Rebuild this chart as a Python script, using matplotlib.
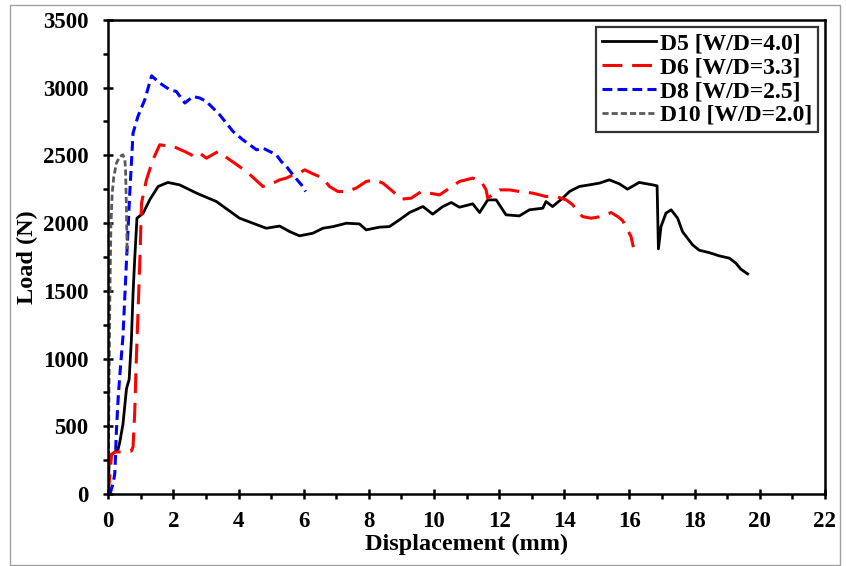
import matplotlib
matplotlib.use("Agg")
import matplotlib.pyplot as plt
from matplotlib.patches import Rectangle
from matplotlib.ticker import MultipleLocator

# Load-displacement curves for the four specimens
d5_x = [0, 0.03, 0.30, 0.35, 0.45, 0.56, 0.64, 0.71, 0.76, 0.81, 0.88, 1.07, 1.27, 1.53,
        1.83, 2.19, 2.71, 3.32, 4.03, 4.85, 5.26, 5.57, 5.87, 6.28, 6.59, 6.90, 7.31,
        7.71, 7.92, 8.33, 8.63, 8.94, 9.25, 9.66, 9.96, 10.27, 10.53, 10.78, 11.19,
        11.40, 11.65, 11.91, 12.21, 12.62, 12.93, 13.34, 13.44, 13.64, 13.95, 14.16,
        14.46, 14.77, 15.08, 15.38, 15.69, 15.94, 16.30, 16.71, 16.85, 16.89, 16.97,
        17.12, 17.28, 17.48, 17.63, 17.94, 18.14, 18.45, 18.76, 19.07, 19.27, 19.42,
        19.63]
d5_y = [0, 280, 330, 380, 515, 780, 845, 1140, 1480, 1730, 2036, 2073, 2171, 2270,
        2300, 2282, 2221, 2159, 2036, 1962, 1978, 1937, 1906, 1925, 1962, 1974, 1999,
        1994, 1950, 1970, 1974, 2024, 2078, 2122, 2066, 2122, 2152, 2117, 2142,
        2078, 2171, 2171, 2061, 2053, 2098, 2110, 2159, 2122, 2184, 2233,
        2270, 2282, 2295, 2319, 2290, 2250, 2300, 2282, 2275, 1810, 1974,
        2073, 2098, 2036, 1937, 1839, 1800, 1782, 1758, 1741, 1704, 1660,
        1625]

d6_x = [0, 0.05, 0.10, 0.20, 0.40, 0.71, 0.76, 0.81, 0.86, 0.97, 1.02, 1.17, 1.37, 1.58,
        1.79, 2.04, 2.35, 2.65, 2.81, 3.01, 3.37, 3.73, 4.24, 4.75, 4.95, 5.26, 5.47,
        5.67, 5.87, 6.03, 6.28, 6.59, 6.79, 7.05, 7.31, 7.61, 7.92, 8.17, 8.43, 8.74,
        8.99, 9.30, 9.61, 9.86, 10.17, 10.48, 10.78, 11.19, 11.45, 11.60, 11.65, 12.01,
        12.32, 12.62, 13.03, 13.44, 13.75, 14.06, 14.26, 14.41, 14.56, 14.82, 15.13,
        15.44, 15.64, 15.79, 15.94, 16.05, 16.12]
d6_y = [0, 150, 290, 310, 312, 318, 349, 596, 990, 1728, 2147, 2319, 2467, 2578,
        2570, 2561, 2528, 2491, 2516, 2479, 2528, 2467, 2381, 2270, 2282, 2319, 2332,
        2356, 2370, 2393, 2364, 2332, 2270, 2233, 2233, 2258, 2307, 2319, 2295, 2233,
        2176, 2184, 2233, 2221, 2208, 2258, 2307, 2332, 2307, 2245, 2184, 2245,
        2245, 2233, 2221, 2196, 2196, 2171, 2135, 2085, 2048, 2036, 2048,
        2078, 2048, 2019, 1950, 1900, 1822]

d8_x = [0.05, 0.10, 0.15, 0.20, 0.22, 0.25, 0.30, 0.35, 0.45, 0.56, 0.66, 0.76, 0.91,
        1.12, 1.33, 1.58, 1.89, 2.09, 2.35, 2.60, 2.81, 3.01, 3.42, 3.83, 4.13, 4.55,
        4.75, 5.16, 5.31, 5.47, 5.67, 5.93, 6.06]
d8_y = [0, 40, 79, 153, 276, 473, 694, 866, 1162, 1728, 2221, 2664, 2787,
        2910, 3087, 3033, 2984, 2971, 2886, 2934, 2923, 2898, 2799, 2676, 2615, 2541,
        2553, 2504, 2455, 2418, 2356, 2282, 2233]

d10_x = [0, 0.02, 0.05, 0.08, 0.12, 0.17, 0.25, 0.35, 0.45, 0.51, 0.53, 0.56, 0.58]
d10_y = [0, 744, 1482, 1974, 2221, 2344, 2442, 2491, 2504, 2467, 2393, 2073, 1778]

labels = ["D5 [W/D=4.0]", "D6 [W/D=3.3]", "D8 [W/D=2.5]", "D10 [W/D=2.0]"]

plt.rcParams["font.family"] = ["Liberation Serif", "DejaVu Serif"]
plt.rcParams["font.weight"] = "bold"

fig = plt.figure(figsize=(8.46, 5.66), dpi=100)
ax = fig.add_axes([0.128, 0.127, 0.847, 0.838])

ax.plot(d5_x, d5_y, color="black", lw=2.0, solid_joinstyle="round", label=labels[0])
ax.plot(d6_x, d6_y, color="#ff0000", lw=2.2, dashes=(6.5, 3.2), label=labels[1])
ax.plot(d8_x, d8_y, color="#0000ff", lw=2.2, dashes=(3.2, 1.7), label=labels[2])
ax.plot(d10_x, d10_y, color="#595959", lw=2.0, dashes=(2.2, 1.1), label=labels[3])

ax.set_xlim(0, 22)
ax.set_ylim(0, 3500)
ax.xaxis.set_major_locator(MultipleLocator(2))
ax.xaxis.set_minor_locator(MultipleLocator(1))
ax.yaxis.set_major_locator(MultipleLocator(500))
ax.yaxis.set_minor_locator(MultipleLocator(250))
ax.tick_params(which="major", direction="inout", length=7, width=1.8, labelsize=16.5)
ax.tick_params(which="minor", direction="out", length=3.5, width=1.8)
ax.tick_params(axis="y", which="major", pad=11)
ax.tick_params(axis="x", which="major", pad=9)
for lab in ax.get_xticklabels() + ax.get_yticklabels():
    lab.set_fontweight("bold")
for sp in ax.spines.values():
    sp.set_linewidth(1.8)

ax.set_xlabel("Displacement (mm)", fontsize=17.5, fontweight="bold", labelpad=1)
ax.set_ylabel("Load (N)", fontsize=17.5, fontweight="bold", labelpad=3)

leg = ax.legend(loc="upper right", fontsize=17, frameon=True, fancybox=False,
                edgecolor="black", handlelength=2.3, handletextpad=0.15,
                borderpad=0.25, labelspacing=0.1, borderaxespad=0.3)
leg.get_frame().set_linewidth(1.6)
for t in leg.get_texts():
    t.set_fontweight("bold")

# thin grey border around the whole figure
fig.patches.append(Rectangle((0.012, 0.002), 0.981, 0.989, transform=fig.transFigure,
                             fill=False, edgecolor="#a0a0a0", lw=1.0))

fig.savefig("out.png", dpi=100)
